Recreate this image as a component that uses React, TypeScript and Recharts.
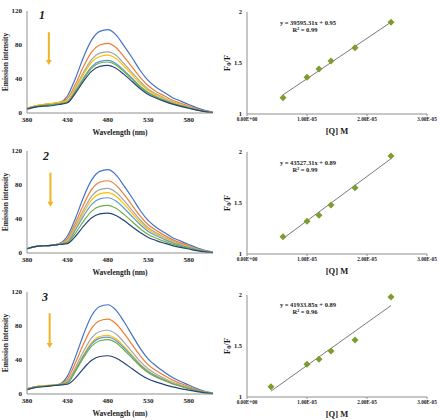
import React from "react";
import {
  LineChart,
  Line,
  ScatterChart,
  Scatter,
  XAxis,
  YAxis,
  ReferenceLine,
  ReferenceDot,
  Label,
} from "recharts";

const SERIF = '"Liberation Serif", "Times New Roman", serif';
const INK = "#1a1a1a";
const AXIS = "#8f8f8f";
const COLORS = ["#4472C4", "#ED7D31", "#A5A5A5", "#FFC000", "#5B9BD5", "#70AD47", "#264478"];
const ARROW = "#F0B323";
const MARKER = "#7E9C2D";

const wavelengths = [380, 390, 400, 410, 420, 430, 440, 450, 460, 470, 480, 490, 500, 510, 520, 530, 540, 550, 560, 570, 580, 590, 600, 610];
const waveTicks = [380, 430, 480, 530, 580];
const intensityTicks = [0, 40, 80, 120];
const qTicks = [0, 1e-5, 2e-5, 3e-5];
const ratioTicks = [1, 1.5, 2];

// emission spectra, from no quencher (top) to highest quencher concentration (bottom)
const spectra1 = [
  [5, 8, 9.5, 10, 12, 20, 41, 66, 86, 96, 98, 92, 79, 65, 50, 38, 30, 24, 18, 14, 10, 6, 3, 1],
  [5.5, 8, 10, 11, 12.5, 17, 34, 55, 72, 80, 82, 77, 66, 54, 42, 32, 25, 20, 15, 11.5, 8.2, 4.9, 2.5, 0.8],
  [5.5, 8, 10, 11, 12.5, 14.5, 30, 48, 63, 70.5, 72, 68, 58, 47.5, 37, 28, 22.3, 17.6, 13.3, 10, 7.2, 4.3, 2.2, 0.7],
  [5.5, 8.5, 10, 11, 12.5, 14, 28.6, 45.6, 60, 66.5, 68, 64, 55, 45, 34.7, 26.5, 21, 16.7, 12.6, 9.5, 6.8, 4.1, 2, 0.7],
  [4.5, 7, 8.5, 9.5, 11, 13, 26, 41.5, 54.6, 60.8, 62, 58.3, 50.2, 41, 31.6, 24.2, 19.2, 15.2, 11.5, 8.7, 6.2, 3.7, 1.9, 0.6],
  [5, 7.5, 9, 10, 11, 12.5, 25.2, 40, 52.8, 58.8, 60, 56.4, 48.6, 39.6, 30.6, 23.4, 18.6, 14.7, 11.1, 8.4, 6, 3.6, 1.8, 0.6],
  [4.5, 7, 8, 8.5, 10, 12, 23.5, 37.5, 49.3, 54.9, 56, 52.6, 45.4, 37, 28.6, 21.8, 17.4, 13.7, 10.4, 7.8, 5.6, 3.4, 1.7, 0.6],
];

const spectra2 = [
  [5, 7.5, 8.5, 9, 11, 20, 41, 66, 86, 96, 98, 92, 79, 65, 50, 38, 30, 24, 18, 14, 10, 6, 3, 1],
  [5, 7.5, 8.5, 9, 11, 17, 35.7, 57, 74.8, 83.3, 85, 79.9, 68.9, 56.1, 43.4, 33.2, 26.4, 20.8, 15.7, 11.9, 8.5, 5.1, 2.6, 0.9],
  [5, 7.5, 8.5, 9, 10.5, 15.2, 31.9, 50.9, 66.9, 74.5, 76, 71.4, 61.6, 50.2, 38.8, 29.6, 23.6, 18.6, 14.1, 10.6, 7.6, 4.6, 2.3, 0.8],
  [5, 7.5, 8.5, 9, 10.5, 14.2, 29.8, 47.6, 62.5, 69.6, 71, 66.7, 57.5, 46.9, 36.2, 27.7, 22, 17.4, 13.1, 9.9, 7.1, 4.3, 2.1, 0.7],
  [5, 7.5, 8.5, 9, 10.5, 13, 27.3, 43.6, 57.2, 63.7, 65, 61.1, 52.7, 42.9, 33.2, 25.4, 20.2, 15.9, 12, 9.1, 6.5, 3.9, 2, 0.7],
  [5, 7.5, 8.5, 9, 10, 12, 23.5, 37.5, 49.3, 54.9, 56, 52.6, 45.4, 37, 28.6, 21.8, 17.4, 13.7, 10.4, 7.8, 5.6, 3.4, 1.7, 0.6],
  [5, 7.5, 8.5, 9, 10, 11, 19.7, 31.5, 41.4, 46.1, 47, 44.2, 38.1, 31, 24, 18.3, 14.6, 11.5, 8.7, 6.6, 4.7, 2.8, 1.4, 0.5],
];

const spectra3 = [
  [6, 8.5, 9.5, 10, 11.5, 21, 44, 70.4, 92.4, 103, 105, 98.7, 85, 69.3, 53.6, 41, 32.6, 25.7, 19.4, 14.7, 10.5, 6.3, 3.2, 1.1],
  [6, 8.5, 9.5, 10, 11.5, 17.6, 37, 59, 77.4, 86.2, 88, 82.7, 71.3, 58.1, 44.9, 34.3, 27.3, 21.6, 16.3, 12.3, 8.8, 5.3, 2.6, 0.9],
  [6, 8.5, 9.5, 10.5, 11.5, 15, 31.5, 50.3, 66, 73.5, 75, 70.5, 60.8, 49.5, 38.3, 29.3, 23.3, 18.4, 13.9, 10.5, 7.5, 4.5, 2.3, 0.8],
  [6, 8.5, 10, 10.5, 11.5, 13.8, 29, 46.2, 60.7, 67.6, 69, 64.9, 55.9, 45.5, 35.2, 26.9, 21.4, 16.9, 12.8, 9.7, 6.9, 4.1, 2.1, 0.7],
  [5, 8, 9, 10, 11, 13.4, 28.1, 44.9, 59, 65.7, 67, 63, 54.3, 44.2, 34.2, 26.1, 20.8, 16.4, 12.4, 9.4, 6.7, 4, 2, 0.7],
  [5.5, 8, 9, 10, 11, 12.8, 26.9, 42.9, 56.3, 62.7, 64, 60.2, 51.8, 42.2, 32.6, 25, 19.8, 15.7, 11.8, 9, 6.4, 3.8, 1.9, 0.6],
  [5, 7.5, 8.5, 9.5, 10.5, 11.5, 18.9, 30.2, 39.6, 44.1, 45, 42.3, 36.5, 29.7, 23, 17.6, 14, 11, 8.3, 6.3, 4.5, 2.7, 1.4, 0.5],
];

// Stern-Volmer data: quencher concentration [Q] (M) and F0/F
const conc1 = [6e-6, 1e-5, 1.2e-5, 1.4e-5, 1.8e-5, 2.4e-5];
const ratio1 = [1.16, 1.36, 1.44, 1.52, 1.65, 1.9];
const conc2 = [6e-6, 1e-5, 1.2e-5, 1.4e-5, 1.8e-5, 2.4e-5];
const ratio2 = [1.17, 1.32, 1.38, 1.48, 1.65, 1.96];
const conc3 = [4e-6, 1e-5, 1.2e-5, 1.4e-5, 1.8e-5, 2.4e-5];
const ratio3 = [1.1, 1.32, 1.37, 1.45, 1.56, 1.98];

const slopes = [39595.31, 43527.31, 41933.85];
const intercepts = [0.95, 0.89, 0.89];
const rSquared = [0.99, 0.99, 0.96];

// 1e-5 -> "1.00E-05"
const sci = (v: number) => {
  if (v === 0) return "0.00E+00";
  const [m, e] = v.toExponential(2).split("e");
  const n = parseInt(e, 10);
  return `${m}E${n < 0 ? "-" : "+"}${String(Math.abs(n)).padStart(2, "0")}`;
};

const sideTitle = (text: string, dx: number, size: number) => (props: any) => {
  const vb = props.viewBox;
  const cx = vb.x + dx;
  const cy = vb.y + vb.height / 2;
  return (
    <text x={cx} y={cy} transform={`rotate(-90 ${cx} ${cy})`} textAnchor="middle" dominantBaseline="central" fontSize={size} fontWeight={700} fill={INK}>
      {text}
    </text>
  );
};

const ratioTitle = (props: any) => {
  const vb = props.viewBox;
  const cx = vb.x + 7;
  const cy = vb.y + vb.height / 2;
  return (
    <text x={cx} y={cy} transform={`rotate(-90 ${cx} ${cy})`} textAnchor="middle" dominantBaseline="central" fontSize={9} fontWeight={700} fill={INK}>
      F<tspan fontSize={6} dy={2}>0</tspan>
      <tspan dy={-2}>/F</tspan>
    </text>
  );
};

const arrowHead = (props: any) => {
  const { cx, cy } = props;
  return <path d={`M${cx - 3},${cy - 5} L${cx + 3},${cy - 5} L${cx},${cy} Z`} fill={ARROW} />;
};

const diamond = (props: any) => {
  const { cx, cy } = props;
  return <path d={`M${cx},${cy - 3.5} L${cx + 3.5},${cy} L${cx},${cy + 3.5} L${cx - 3.5},${cy} Z`} fill={MARKER} />;
};

type SpectraProps = {
  top: number;
  curves: number[][];
  arrow: [number, number, number];
};

const SpectraPanel = ({ top, curves, arrow }: SpectraProps) => {
  const rows = wavelengths.map((w, i) => {
    const row: Record<string, number> = { w };
    curves.forEach((c, k) => (row[`s${k}`] = c[i]));
    return row;
  });
  const [ax, ay0, ay1] = arrow;
  return (
    <div style={{ position: "absolute", left: 0, top }}>
      <LineChart width={220} height={140} data={rows} margin={{ top: 11, right: 7, bottom: 0, left: 0 }}>
        <XAxis
          dataKey="w"
          type="number"
          domain={[380, 610]}
          ticks={waveTicks}
          interval={0}
          height={27}
          tickLine={false}
          tickSize={2}
          tickMargin={2}
          axisLine={{ stroke: AXIS }}
          tick={{ fontSize: 7, fontWeight: 700, fill: INK }}
        >
          <Label value="Wavelength (nm)" position="insideBottom" offset={5} fontSize={7.5} fontWeight={700} fill={INK} />
        </XAxis>
        <YAxis
          type="number"
          domain={[0, 120]}
          ticks={intensityTicks}
          interval={0}
          width={27}
          tickLine={false}
          tickSize={3}
          tickMargin={2}
          axisLine={{ stroke: AXIS }}
          tick={{ fontSize: 7, fontWeight: 700, fill: INK }}
        >
          <Label content={sideTitle("Emission intensity", 5, 7.5)} />
        </YAxis>
        {curves.map((_, k) => (
          <Line
            key={k}
            dataKey={`s${k}`}
            type="monotone"
            stroke={COLORS[k]}
            strokeWidth={1.2}
            dot={false}
            isAnimationActive={false}
          />
        ))}
        <ReferenceLine segment={[{ x: ax, y: ay0 }, { x: ax, y: ay1 + 5 }]} stroke={ARROW} strokeWidth={2} />
        <ReferenceDot x={ax} y={ay1} shape={arrowHead} />
      </LineChart>
    </div>
  );
};

type SvProps = {
  top: number;
  conc: number[];
  ratio: number[];
  slope: number;
  intercept: number;
};

const SternVolmerPanel = ({ top, conc, ratio, slope, intercept }: SvProps) => {
  const points = conc.map((q, i) => ({ q, f: ratio[i] }));
  const x0 = conc[0];
  const x1 = conc[conc.length - 1];
  return (
    <div style={{ position: "absolute", left: 220, top }}>
      <ScatterChart width={224} height={140} margin={{ top: 12, right: 17, bottom: 0, left: 0 }}>
        <XAxis
          dataKey="q"
          type="number"
          domain={[0, 3e-5]}
          ticks={qTicks}
          interval={0}
          tickFormatter={sci}
          height={26}
          tickSize={2}
          tickMargin={1.5}
          axisLine={{ stroke: AXIS }}
          tickLine={{ stroke: AXIS }}
          tick={{ fontSize: 5.2, fontWeight: 700, fill: INK }}
        >
          <Label value="[Q] M" position="insideBottom" offset={6} fontSize={8.5} fontWeight={700} fill={INK} />
        </XAxis>
        <YAxis
          dataKey="f"
          type="number"
          domain={[1, 2]}
          ticks={ratioTicks}
          interval={0}
          width={27}
          tickLine={false}
          tickSize={3}
          tickMargin={2}
          axisLine={{ stroke: AXIS }}
          tick={{ fontSize: 6.5, fontWeight: 700, fill: INK }}
        >
          <Label content={ratioTitle} />
        </YAxis>
        <ReferenceLine
          segment={[
            { x: x0, y: slope * x0 + intercept },
            { x: x1, y: slope * x1 + intercept },
          ]}
          stroke="#6b6b6b"
          strokeWidth={0.9}
        />
        <Scatter data={points} shape={diamond} fill={MARKER} isAnimationActive={false} />
      </ScatterChart>
    </div>
  );
};

const tagStyle = { fontSize: 12, fontWeight: 700, fontStyle: "italic" as const, fill: INK };
const eqStyle = { fontSize: 6.5, fontWeight: 700, fill: INK };

const App = () => {
  const eqRows = [25.3, 165, 307.3];
  const tags = [
    { text: "1", x: 42, y: 19 },
    { text: "2", x: 46, y: 160 },
    { text: "3", x: 45, y: 301 },
  ];
  return (
    <div style={{ position: "absolute", left: 0, top: 0, width: 444, height: 420, background: "#fff", fontFamily: SERIF }}>
      <SpectraPanel top={0} curves={spectra1} arrow={[407, 95, 56.5]} />
      <SpectraPanel top={140} curves={spectra2} arrow={[409, 94.5, 54.5]} />
      <SpectraPanel top={281} curves={spectra3} arrow={[408, 95, 54]} />
      <SternVolmerPanel top={0} conc={conc1} ratio={ratio1} slope={slopes[0]} intercept={intercepts[0]} />
      <SternVolmerPanel top={140} conc={conc2} ratio={ratio2} slope={slopes[1]} intercept={intercepts[1]} />
      <SternVolmerPanel top={283} conc={conc3} ratio={ratio3} slope={slopes[2]} intercept={intercepts[2]} />
      <svg width={444} height={420} style={{ position: "absolute", left: 0, top: 0, pointerEvents: "none" }}>
        {tags.map((t) => (
          <text key={t.text} x={t.x} y={t.y} textAnchor="middle" {...tagStyle}>
            {t.text}
          </text>
        ))}
        {eqRows.map((y, i) => (
          <g key={i}>
            <text x={308} y={y} textAnchor="middle" {...eqStyle}>
              {`y = ${slopes[i].toFixed(2)}x + ${intercepts[i].toFixed(2)}`}
            </text>
            <text x={305} y={y + 6.5} textAnchor="middle" {...eqStyle}>
              {`R² = ${rSquared[i].toFixed(2)}`}
            </text>
          </g>
        ))}
      </svg>
    </div>
  );
};

export default App;
